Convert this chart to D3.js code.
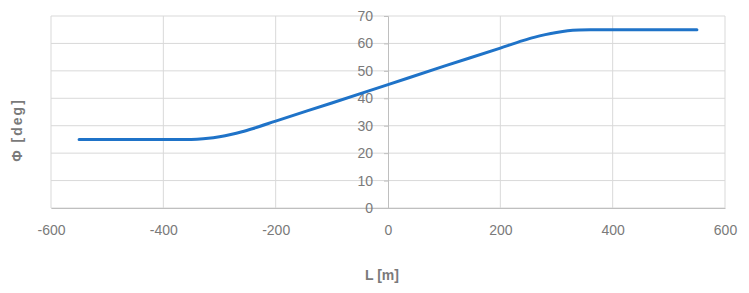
<!DOCTYPE html>
<html>
<head>
<meta charset="utf-8">
<script src="https://cdn.jsdelivr.net/npm/d3@7"></script>
<style>
  body { margin: 0; background: #fff; }
  svg { display: block; font-family: "Liberation Sans", "DejaVu Sans", sans-serif; }
</style>
</head>
<body>
<svg id="chart"></svg>
<script>
// Tick values
const xTicks = [-600, -400, -200, 0, 200, 400, 600];
const yTicks = [0, 10, 20, 30, 40, 50, 60, 70];

// Series: L [m] vs Φ [deg]
const lValues   = [-550, -500, -450, -400, -360, -340, -320, -300, -280, -260, -240, -200, -100, 0, 100, 200, 240, 260, 280, 300, 320, 340, 360, 400, 450, 500, 550];
const phiValues = [25, 25, 25, 25, 25, 25.1, 25.4, 26.0, 26.8, 27.8, 29.0, 31.7, 38.3, 45, 51.7, 58.3, 61.0, 62.2, 63.2, 64.0, 64.6, 64.9, 65, 65, 65, 65, 65];

const data = lValues.map((l, i) => ({ l: l, phi: phiValues[i] }));

function createChart(data) {
    const width = 749;
    const height = 293;
    const margin = { top: 16, right: 24, bottom: 85, left: 51 };
    const innerW = width - margin.left - margin.right;
    const innerH = height - margin.top - margin.bottom;

    const svg = d3.select('#chart')
                  .attr('width', width)
                  .attr('height', height);

    const g = svg.append('g')
                 .attr('transform', `translate(${margin.left},${margin.top})`);

    const xScale = d3.scaleLinear()
                     .domain([-600, 600])
                     .range([0, innerW]);

    const yScale = d3.scaleLinear()
                     .domain([0, 70])
                     .range([innerH, 0]);

    // Horizontal gridlines
    g.selectAll('.hgrid')
     .data(yTicks)
     .enter()
     .append('line')
     .attr('x1', 0)
     .attr('x2', innerW)
     .attr('y1', d => yScale(d))
     .attr('y2', d => yScale(d))
     .attr('stroke', '#d9d9d9')
     .attr('stroke-width', 1);

    // Vertical gridlines
    g.selectAll('.vgrid')
     .data(xTicks.filter(d => d !== 0))
     .enter()
     .append('line')
     .attr('x1', d => xScale(d))
     .attr('x2', d => xScale(d))
     .attr('y1', 0)
     .attr('y2', innerH)
     .attr('stroke', '#d9d9d9')
     .attr('stroke-width', 1);

    // X axis (labels only, below the plot), plain hyphen minus like the original
    const xAxis = g.append('g')
                   .attr('transform', `translate(0,${innerH})`)
                   .call(d3.axisBottom(xScale)
                       .tickValues(xTicks)
                       .tickFormat(d => String(d))
                       .tickSize(0)
                       .tickPadding(17));
    xAxis.select('.domain').attr('stroke', '#bfbfbf');
    xAxis.selectAll('text')
         .style('font-size', '14px')
         .style('fill', '#7a7a7a');

    // Y axis crossing at L = 0
    const yAxis = g.append('g')
                   .attr('transform', `translate(${xScale(0)},0)`)
                   .call(d3.axisLeft(yScale).tickValues(yTicks).tickSize(4).tickPadding(11));
    yAxis.select('.domain').attr('stroke', '#bfbfbf');
    yAxis.selectAll('line').attr('stroke', '#bfbfbf');
    yAxis.selectAll('text')
         .style('font-size', '14px')
         .style('fill', '#7a7a7a');

    // The line
    const line = d3.line()
                   .x(d => xScale(d.l))
                   .y(d => yScale(d.phi))
                   .curve(d3.curveMonotoneX);

    g.append('path')
     .datum(data)
     .attr('fill', 'none')
     .attr('stroke', '#1f73c8')
     .attr('stroke-width', 3)
     .attr('stroke-linecap', 'round')
     .attr('d', line);

    // Axis titles
    svg.append('text')
       .attr('x', margin.left + xScale(0) - 6)
       .attr('y', 280)
       .attr('text-anchor', 'middle')
       .style('font-size', '14px')
       .style('font-weight', 'bold')
       .style('fill', '#7a7a7a')
       .text('L [m]');

    svg.append('text')
       .attr('transform', 'translate(22,130) rotate(-90)')
       .attr('text-anchor', 'middle')
       .style('font-size', '14px')
       .style('font-weight', 'bold')
       .style('letter-spacing', '2px')
       .style('fill', '#7a7a7a')
       .text('Φ [deg]');
}

createChart(data);
</script>
</body>
</html>
